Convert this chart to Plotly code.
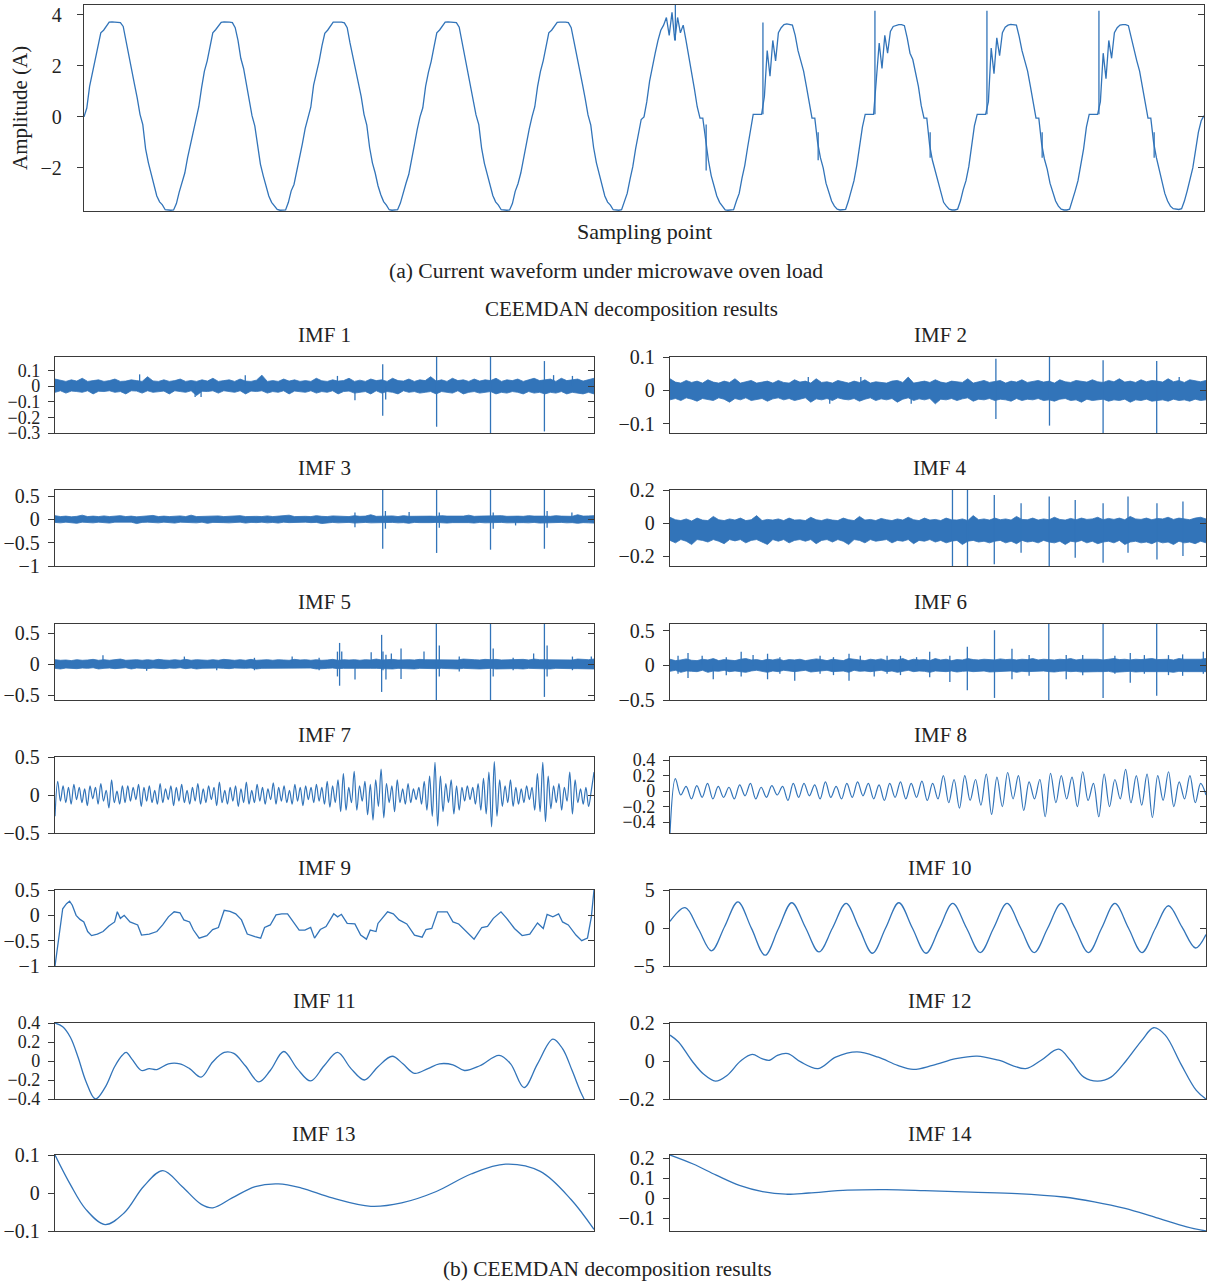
import numpy as np
import plotly.graph_objects as go

W, H = 1207, 1282
BLUE = "#3274b9"
AXC = "#3a3a3a"
FONT = "Liberation Serif"

# ---------------- (a) current waveform, 10 mains cycles, 40 samples per cycle ----------------
SAMPLE_STEP = 25  # sampling points between two listed samples
cyc1 = [0, .35, 1.2, 1.75, 2.15, 2.75, 3.3, 3.4, 3.55, 3.72, 3.73, 3.72, 3.73, 3.7, 3.55, 2.95, 2.35, 1.85, 1.3, .75,
        .1, -.3, -1.25, -1.8, -2.25, -2.7, -3.1, -3.33, -3.45, -3.64, -3.66, -3.66, -3.65, -3.4, -2.95, -2.6, -2.2, -1.6, -1.1, -.5]
cyc2 = [0, .4, 1.15, 1.8, 2.2, 2.7, 3.3, 3.42, 3.55, 3.71, 3.73, 3.73, 3.72, 3.7, 3.5, 3.0, 2.3, 1.9, 1.25, .7,
        .05, -.35, -1.2, -1.85, -2.3, -2.75, -3.1, -3.35, -3.47, -3.63, -3.66, -3.65, -3.65, -3.35, -2.9, -2.65, -2.15, -1.55, -1.05, -.45]
cyc3 = [0, .38, 1.25, 1.7, 2.2, 2.8, 3.28, 3.4, 3.56, 3.72, 3.72, 3.73, 3.72, 3.69, 3.5, 2.9, 2.4, 1.8, 1.3, .8,
        .1, -.32, -1.2, -1.8, -2.2, -2.7, -3.05, -3.32, -3.46, -3.64, -3.66, -3.66, -3.64, -3.38, -2.95, -2.6, -2.25, -1.6, -1.1, -.5]
cyc4 = [0, .36, 1.2, 1.75, 2.18, 2.75, 3.3, 3.41, 3.55, 3.72, 3.73, 3.72, 3.73, 3.7, 3.52, 2.95, 2.35, 1.85, 1.28, .75,
        .08, -.3, -1.22, -1.82, -2.25, -2.72, -3.08, -3.33, -3.46, -3.64, -3.66, -3.66, -3.65, -3.4, -2.92, -2.62, -2.2, -1.58, -1.08, -.48]
cyc5 = [0, .4, 1.2, 1.78, 2.2, 2.75, 3.3, 3.4, 3.55, 3.71, 3.72, 3.73, 3.72, 3.7, 3.5, 2.95, 2.35, 1.8, 1.3, .72,
        .08, -.32, -1.2, -1.8, -2.25, -2.7, -3.1, -3.34, -3.46, -3.64, -3.66, -3.66, -3.64, -3.35, -3.0, -2.45, -1.95, -1.25, -.65, -.1]
cyc6 = [0, .6, 1.4, 2.0, 2.5, 3.0, 3.4, 3.6, 3.9, 3.2, 4.1, 3.0, 3.9, 3.3, 3.6, 3.0, 2.4, 1.8, 1.1, .4,
        -.05, -.05, -.9, -1.7, -2.3, -2.7, -3.1, -3.35, -3.5, -3.65, -3.66, -3.66, -3.64, -3.3, -3.0, -2.4, -1.9, -1.2, -.6, .1]
cyc7 = [.1, .1, .1, .8, 2.6, 1.6, 3.0, 2.2, 3.3, 3.5, 3.62, 3.65, 3.63, 3.6, 3.2, 2.6, 2.2, 1.8, 1.2, .5,
        -.05, -.05, -1.0, -1.6, -2.0, -2.6, -3.0, -3.3, -3.5, -3.62, -3.65, -3.65, -3.63, -3.3, -2.9, -2.5, -1.9, -1.2, -.4, .1]
cyc8 = [.1, .1, .1, 1.5, 2.9, 1.9, 3.2, 2.5, 3.35, 3.55, 3.6, 3.62, 3.62, 3.58, 3.1, 2.5, 2.25, 1.75, 1.2, .45,
        -.05, -.05, -1.1, -1.7, -2.1, -2.6, -3.0, -3.35, -3.5, -3.62, -3.65, -3.65, -3.62, -3.3, -2.85, -2.5, -1.95, -1.2, -.35, .1]
cyc9 = [.1, .1, .1, .6, 2.7, 1.7, 3.1, 2.4, 3.3, 3.52, 3.6, 3.63, 3.62, 3.6, 3.15, 2.6, 2.2, 1.8, 1.2, .5,
        -.05, -.05, -1.05, -1.65, -2.05, -2.6, -3.0, -3.3, -3.5, -3.62, -3.65, -3.65, -3.62, -3.3, -2.9, -2.5, -1.9, -1.25, -.4, .1]
cyc10 = [.1, .1, .1, .6, 2.5, 1.5, 3.0, 2.3, 3.3, 3.5, 3.6, 3.62, 3.62, 3.58, 3.1, 2.6, 2.2, 1.8, 1.2, .5,
         -.05, -.05, -1.0, -1.6, -2.1, -2.6, -3.0, -3.3, -3.5, -3.6, -3.63, -3.63, -3.6, -3.3, -2.9, -2.5, -2.0, -1.3, -.6, -.15]
current_last = [.05]
# switching transients in the current (sampling point, low, high)
cur_spk_x = [5280, 5555, 6062, 6555, 7062, 7555, 8062, 8555, 9062, 9555]
cur_spk_lo = [3.0, -2.1, .1, -1.7, .1, -1.6, .1, -1.6, .1, -1.6]
cur_spk_hi = [4.5, -.3, 3.7, -.6, 4.16, -.6, 4.16, -.6, 4.16, -.6]

# ---------------- IMF 1-6: noise band (upper / lower envelope, 100 bins) + transients ----------------
imf1_up = [.045, .035, .03, .04, .032, .05, .03, .035, .04, .03, .035, .045, .03, .032, .04, .035, .03, .06, .033, .03,
           .04, .03, .035, .045, .03, .036, .03, .04, .032, .05, .03, .035, .04, .03, .045, .032, .03, .038, .07, .03,
           .035, .03, .045, .032, .04, .03, .035, .03, .05, .034, .03, .04, .032, .035, .05, .03, .038, .03, .045, .035,
           .04, .03, .05, .035, .032, .045, .03, .04, .035, .06, .032, .04, .03, .05, .035, .04, .03, .045, .032, .04,
           .035, .05, .03, .04, .035, .045, .03, .04, .05, .035, .04, .045, .03, .05, .035, .04, .045, .032, .04, .05]
imf1_lo = [-.04, -.03, -.045, -.032, -.035, -.04, -.03, -.05, -.033, -.035, -.03, -.04, -.035, -.05, -.03, -.032, -.045, -.03, -.04, -.035,
           -.032, -.05, -.03, -.035, -.04, -.03, -.06, -.033, -.035, -.03, -.045, -.03, -.035, -.04, -.03, -.05, -.032, -.035, -.03, -.045,
           -.035, -.04, -.03, -.05, -.032, -.035, -.04, -.03, -.045, -.035, -.04, -.03, -.05, -.035, -.032, -.045, -.04, -.035, -.05, -.03,
           -.045, -.035, -.04, -.05, -.03, -.04, -.035, -.045, -.04, -.035, -.05, -.035, -.04, -.045, -.03, -.05, -.04, -.035, -.045, -.04,
           -.035, -.05, -.04, -.045, -.035, -.04, -.05, -.035, -.045, -.04, -.05, -.04, -.045, -.035, -.05, -.04, -.045, -.05, -.04, -.05]
imf1_spk_x = [1570, 2600, 2710, 3530, 5240, 5565, 6080, 6135, 7080, 8080, 9080, 9250, 9600]
imf1_spk_lo = [0, -.07, -.07, 0, 0, -.09, -.19, -.085, -.26, -.3, -.29, 0, 0]
imf1_spk_hi = [.075, 0, 0, .07, .065, 0, .14, 0, .19, .19, .16, .07, .065]

imf2_up = [.035, .025, .022, .03, .024, .028, .022, .032, .025, .022, .028, .024, .035, .022, .026, .03, .022, .025, .028, .022,
           .03, .024, .022, .032, .025, .028, .022, .035, .024, .026, .022, .03, .025, .022, .028, .024, .032, .022, .026, .025,
           .022, .028, .03, .024, .04, .022, .026, .028, .024, .032, .025, .022, .028, .026, .024, .035, .022, .026, .03, .024,
           .026, .03, .022, .028, .025, .032, .024, .026, .03, .025, .028, .022, .032, .026, .024, .03, .028, .025, .032, .026,
           .024, .03, .026, .035, .025, .028, .024, .032, .026, .03, .028, .025, .035, .026, .03, .024, .032, .028, .026, .03]
imf2_lo = [-.028, -.024, -.03, -.022, -.026, -.032, -.024, -.026, -.03, -.022, -.026, -.035, -.024, -.028, -.022, -.03, -.026, -.024, -.032, -.025,
           -.022, -.028, -.024, -.03, -.026, -.022, -.035, -.025, -.028, -.024, -.03, -.022, -.026, -.028, -.024, -.032, -.026, -.022, -.03, -.025,
           -.028, -.024, -.035, -.026, -.022, -.03, -.025, -.028, -.024, -.04, -.026, -.028, -.024, -.03, -.025, -.022, -.032, -.026, -.028, -.024,
           -.03, -.026, -.028, -.032, -.024, -.03, -.026, -.028, -.024, -.03, -.028, -.032, -.026, -.024, -.03, -.028, -.035, -.026, -.03, -.028,
           -.026, -.032, -.028, -.03, -.026, -.035, -.028, -.03, -.026, -.032, -.03, -.028, -.032, -.026, -.03, -.028, -.032, -.026, -.03, -.028]
imf2_spk_x = [2580, 2980, 3560, 4500, 6080, 7080, 8080, 9080, 9500]
imf2_spk_lo = [0, -.04, 0, -.04, -.085, -.105, -.127, -.127, 0]
imf2_spk_hi = [.04, 0, .04, 0, .095, .1, .09, .088, .04]

imf3_up = [.08, .06, .07, .055, .065, .09, .06, .07, .06, .075, .06, .065, .08, .06, .07, .055, .065, .06, .085, .06,
           .07, .06, .065, .075, .06, .09, .06, .065, .07, .06, .075, .06, .065, .06, .08, .06, .07, .065, .06, .075,
           .06, .07, .065, .09, .06, .07, .065, .06, .08, .065, .06, .075, .065, .07, .06, .08, .065, .07, .1, .065,
           .07, .065, .075, .06, .08, .065, .07, .06, .075, .07, .065, .08, .07, .065, .075, .07, .09, .065, .07, .075,
           .065, .07, .08, .065, .075, .07, .065, .08, .07, .075, .07, .065, .08, .07, .075, .065, .1, .07, .075, .08]
imf3_lo = [-.065, -.075, -.06, -.07, -.085, -.06, -.065, -.075, -.06, -.07, -.08, -.06, -.065, -.07, -.06, -.09, -.065, -.06, -.07, -.075,
           -.06, -.065, -.08, -.06, -.07, -.065, -.075, -.06, -.085, -.065, -.06, -.07, -.075, -.065, -.06, -.08, -.065, -.07, -.06, -.075,
           -.065, -.08, -.06, -.07, -.065, -.075, -.06, -.07, -.065, -.09, -.07, -.065, -.075, -.07, -.065, -.08, -.07, -.065, -.075, -.07,
           -.08, -.07, -.065, -.075, -.07, -.085, -.065, -.07, -.075, -.07, -.065, -.075, -.08, -.07, -.065, -.075, -.07, -.08, -.065, -.075,
           -.07, -.08, -.065, -.075, -.07, -.08, -.07, -.075, -.065, -.08, -.075, -.07, -.08, -.065, -.075, -.07, -.085, -.07, -.075, -.08]
imf3_spk_x = [5565, 6080, 6130, 6570, 7080, 7130, 8080, 8130, 8545, 9080, 9130, 9590]
imf3_spk_lo = [-.17, -.63, -.2, 0, -.72, -.18, -.65, -.2, -.13, -.63, -.18, 0]
imf3_spk_hi = [.15, .63, .18, .16, .63, .15, .63, .15, 0, .63, .18, .15]

imf4_up = [.035, .02, .015, .025, .012, .03, .018, .015, .04, .02, .015, .025, .018, .03, .015, .02, .045, .015, .022, .018,
           .025, .015, .03, .018, .02, .015, .035, .02, .015, .025, .018, .015, .03, .02, .015, .04, .018, .022, .015, .028,
           .02, .015, .025, .018, .035, .02, .015, .03, .018, .022, .015, .03, .02, .018, .025, .015, .045, .02, .025, .018,
           .03, .02, .025, .018, .04, .022, .02, .03, .018, .025, .02, .035, .022, .018, .028, .02, .03, .022, .025, .035,
           .02, .028, .022, .03, .02, .04, .025, .022, .03, .02, .028, .025, .035, .022, .03, .025, .02, .03, .035, .025]
imf4_lo = [-.105, -.12, -.1, -.11, -.13, -.1, -.105, -.115, -.1, -.11, -.125, -.1, -.108, -.1, -.12, -.105, -.1, -.115, -.13, -.1,
           -.11, -.1, -.12, -.105, -.1, -.11, -.1, -.125, -.105, -.1, -.115, -.1, -.11, -.13, -.1, -.105, -.12, -.1, -.11, -.105,
           -.1, -.12, -.105, -.11, -.1, -.125, -.105, -.11, -.1, -.115, -.105, -.12, -.11, -.105, -.13, -.11, -.105, -.115, -.11, -.12,
           -.11, -.105, -.12, -.11, -.125, -.105, -.115, -.11, -.12, -.105, -.115, -.12, -.11, -.13, -.11, -.115, -.105, -.12, -.11, -.125,
           -.115, -.11, -.12, -.105, -.13, -.115, -.11, -.12, -.115, -.125, -.11, -.12, -.115, -.13, -.11, -.12, -.115, -.125, -.11, -.12]
imf4_spk_x = [5270, 5550, 6050, 6550, 7075, 7560, 8080, 8545, 9085, 9570]
imf4_spk_lo = [-.26, -.26, -.25, -.18, -.26, -.21, -.24, -.18, -.22, -.2]
imf4_spk_hi = [.2, .2, .17, .12, .16, .14, .12, .16, .12, .13]

imf5_up = [.07, .06, .065, .055, .07, .06, .065, .075, .06, .07, .06, .065, .08, .06, .065, .07, .06, .07, .06, .075,
           .065, .06, .07, .06, .075, .06, .07, .065, .06, .07, .06, .075, .065, .06, .07, .06, .075, .06, .065, .07,
           .06, .07, .065, .06, .075, .065, .07, .06, .07, .06, .065, .075, .06, .07, .065, .07, .06, .07, .065, .08,
           .065, .07, .075, .065, .07, .07, .065, .075, .07, .07, .065, .075, .07, .07, .065, .08, .07, .07, .065, .075,
           .07, .075, .065, .07, .075, .07, .075, .065, .08, .07, .07, .065, .075, .07, .075, .065, .08, .07, .07, .08]
imf5_lo = [-.07, -.08, -.065, -.07, -.075, -.065, -.07, -.06, -.08, -.07, -.065, -.075, -.07, -.06, -.08, -.065, -.07, -.075, -.065, -.07,
           -.075, -.065, -.07, -.06, -.075, -.065, -.08, -.07, -.065, -.07, -.065, -.07, -.075, -.065, -.07, -.07, -.065, -.08, -.07, -.07,
           -.065, -.075, -.07, -.065, -.075, -.07, -.07, -.065, -.08, -.07, -.07, -.065, -.075, -.07, -.075, -.07, -.07, -.075, -.07, -.07,
           -.075, -.07, -.08, -.07, -.075, -.07, -.08, -.07, -.075, -.07, -.075, -.07, -.075, -.07, -.08, -.07, -.075, -.07, -.08, -.075,
           -.07, -.08, -.075, -.07, -.075, -.075, -.08, -.07, -.075, -.075, -.075, -.08, -.07, -.075, -.08, -.075, -.075, -.08, -.075, -.08]
imf5_spk_x = [890, 1700, 2400, 3000, 3700, 4400, 4900, 5240, 5280, 5320, 5566, 5866, 6060, 6085, 6140, 6240, 6420, 6846,
              7075, 7130, 7500, 8080, 8130, 8500, 8880, 9080, 9130, 9600, 9950]
imf5_spk_lo = [0, -.11, 0, -.1, -.1, 0, -.1, -.2, -.35, 0, -.25, 0, -.45, -.1, -.25, 0, -.24, 0,
               -.58, -.2, -.12, -.58, -.2, -.1, 0, -.53, -.2, -.1, 0]
imf5_spk_hi = [.14, 0, .12, 0, .1, .12, .1, .2, .34, .2, 0, .19, .47, .2, .15, .17, .25, .2,
               .645, .3, .12, .645, .25, .1, .17, .645, .3, .12, .12]

imf6_up = [.09, .07, .08, .095, .075, .07, .09, .08, .1, .07, .085, .08, .07, .09, .1, .08, .085, .07, .09, .08,
           .095, .07, .085, .08, .09, .07, .08, .095, .085, .07, .09, .08, .07, .1, .085, .08, .07, .09, .08, .095,
           .07, .085, .08, .1, .07, .09, .08, .085, .07, .1, .08, .09, .07, .085, .08, .1, .085, .08, .09, .085,
           .08, .095, .085, .09, .08, .09, .085, .1, .08, .09, .085, .08, .09, .085, .1, .08, .09, .085, .09, .09,
           .08, .09, .1, .085, .09, .08, .09, .085, .09, .1, .085, .09, .09, .08, .1, .09, .085, .09, .09, .1]
imf6_lo = [-.085, -.07, -.1, -.08, -.085, -.09, -.07, -.1, -.08, -.085, -.07, -.09, -.08, -.09, -.1, -.08, -.07, -.085, -.1, -.08,
           -.09, -.07, -.085, -.09, -.08, -.07, -.095, -.085, -.08, -.07, -.09, -.085, -.08, -.1, -.07, -.085, -.08, -.09, -.085, -.07,
           -.09, -.08, -.1, -.085, -.07, -.09, -.08, -.085, -.1, -.08, -.085, -.09, -.08, -.095, -.085, -.08, -.09, -.085, -.08, -.095,
           -.09, -.085, -.09, -.08, -.1, -.085, -.09, -.085, -.09, -.08, -.09, -.095, -.085, -.08, -.09, -.085, -.095, -.09, -.085, -.09,
           -.09, -.085, -.1, -.09, -.09, -.085, -.095, -.09, -.09, -.085, -.095, -.09, -.09, -.1, -.085, -.09, -.09, -.095, -.09, -.09]
imf6_spk_x = [150, 336, 600, 807, 1050, 1328, 1550, 1820, 2050, 2327, 2800, 3050, 3340, 3550, 3810, 4050, 4300, 4600,
              4845, 5221, 5547, 6054, 6380, 6700, 7067, 7392, 7700, 8080, 8300, 8587, 8850, 9080, 9300, 9564, 9950]
imf6_spk_lo = [-.12, -.18, 0, -.2, -.14, -.16, 0, -.2, -.12, -.22, -.12, -.14, -.22, 0, -.16, -.12, -.14, 0,
               -.17, -.24, -.36, -.47, -.2, -.15, -.5, -.2, -.14, -.47, -.12, -.25, -.12, -.44, -.14, -.15, -.12]
imf6_spk_hi = [.14, .18, .14, 0, .12, .2, .15, .17, .12, 0, .14, .12, .17, .14, 0, .14, .14, .12,
               .2, .14, .27, .51, .24, .15, .6, .15, .15, .6, .14, .18, .15, .6, .15, .16, .2]

# ---------------- IMF 7, 8: oscillatory (equally spaced samples) ----------------
imf7 = [-.28, .18, -.08, .12, -.1, .1, -.12, .14, -.06, .1,
        -.1, .08, -.14, .12, -.05, .1, -.12, .15, -.08, .06,
        -.17, .2, -.1, .05, -.12, .12, -.1, .12, -.08, .1,
        -.06, .14, -.15, .1, -.08, .12, -.1, .06, -.12, .15,
        -.1, .08, -.06, .12, -.14, .1, -.08, .14, -.1, .06,
        -.12, .1, -.08, .15, -.12, .08, -.1, .12, -.06, .1,
        -.14, .17, -.1, .06, -.12, .1, -.08, .12, -.15, .08,
        -.1, .17, -.12, .06, -.1, .14, -.08, .1, -.12, .08,
        -.06, .16, -.12, .1, -.08, .12, -.1, .06, -.12, .14,
        -.08, .1, -.14, .12, -.06, .1, -.1, .14, -.08, .1,
        -.12, .18, -.16, .12, -.1, .2, -.22, .28, -.2, .1,
        -.1, .31, -.2, .12, -.08, .18, -.26, .14, -.33, .2,
        -.15, .34, -.3, .15, -.1, .12, -.22, .2, -.1, .08,
        -.12, .15, -.1, .08, -.06, .1, -.12, .18, -.2, .25,
        -.28, .43, -.41, .25, -.22, .15, -.1, .2, -.25, .12,
        -.2, .1, -.08, .12, -.06, .1, -.12, .15, -.2, .22,
        -.25, .3, -.42, .44, -.28, .2, -.15, .12, -.1, .2,
        -.15, .1, -.12, .08, -.1, .12, -.06, .1, -.2, .28,
        -.22, .43, -.35, .25, -.18, .12, -.1, .15, -.2, .1,
        -.08, .3, -.25, .2, -.1, .08, -.12, .1, -.15, .06,
        .3]
imf8 = [-.54, .16, -.05, .06, -.1, .07, -.08, .1, -.1, .06,
        -.08, .05, -.1, .08, -.06, .1, -.1, .05, -.08, .07,
        -.05, .06, -.12, .1, -.08, .1, -.06, .08, -.1, .12,
        -.08, .06, -.1, .1, -.08, .12, -.06, .1, -.1, .08,
        -.12, .1, -.08, .12, -.1, .1, -.08, .13, -.12, .1,
        -.1, .2, -.15, .15, -.22, .2, -.12, .15, -.18, .22,
        -.3, .18, -.2, .24, -.1, .2, -.25, .12, -.1, .15,
        -.33, .23, -.15, .2, -.1, .18, -.2, .25, -.12, .1,
        -.33, .22, -.2, .15, -.1, .28, -.15, .2, -.18, .22,
        -.34, .2, -.12, .25, -.2, .12, -.1, .2, -.15, .1,
        -.05]

# ---------------- IMF 9-14: slow components (sampling point, value) ----------------
imf9_x = [0, 93, 143, 214, 271, 321, 392, 464, 535, 606, 678, 785, 892, 999, 1106, 1156, 1213, 1284, 1391, 1534,
          1605, 1748, 1890, 1997, 2104, 2211, 2318, 2390, 2497, 2568, 2675, 2818, 2925, 3032, 3139, 3246, 3353, 3460, 3567, 3709,
          3816, 3888, 3994, 4101, 4208, 4315, 4422, 4530, 4636, 4743, 4815, 4922, 5029, 5171, 5243, 5314, 5421, 5564, 5671, 5778,
          5849, 5956, 5992, 6170, 6277, 6384, 6527, 6669, 6812, 6883, 6990, 7097, 7276, 7383, 7490, 7632, 7775, 7918, 8025, 8132,
          8274, 8381, 8524, 8667, 8809, 8952, 9059, 9130, 9237, 9344, 9416, 9523, 9665, 9772, 9879, 9951, 10000]
imf9_y = [-1.0, -.22, .13, .23, .28, .2, 0, -.08, -.13, -.32, -.4, -.37, -.32, -.21, -.13, .07, -.06, 0, -.13, -.19,
          -.39, -.37, -.32, -.19, -.03, .07, .05, -.09, -.13, -.29, -.45, -.4, -.28, -.24, .1, .08, .03, -.09, -.37, -.42,
          -.45, -.24, -.19, .01, .03, .03, -.13, -.29, -.29, -.24, -.45, -.28, -.22, .03, -.03, .02, -.16, -.17, -.39, -.47,
          -.29, -.32, -.16, .07, .03, -.09, -.17, -.39, -.43, -.28, -.26, .07, .07, -.13, -.17, -.32, -.47, -.24, -.22, -.06,
          .07, -.06, -.26, -.4, -.37, -.15, -.26, .02, -.03, .03, -.13, -.19, -.39, -.5, -.45, -.03, .5]
imf10_x = [0, 282, 528, 774, 1020, 1266, 1520, 1773, 2022, 2272, 2525, 2779, 3032, 3285, 3531, 3777, 4023, 4269, 4522, 4776,
           5025, 5275, 5532, 5789, 6038, 6288, 6541, 6795, 7048, 7301, 7554, 7808, 8054, 8300, 8553, 8806, 9052, 9298, 9551, 9805, 10000]
imf10_y = [.86, 2.67, -.1, -3.0, .2, 3.45, -.05, -3.58, -.1, 3.32, .1, -3.15, 0, 3.23, -.05, -3.32, 0, 3.32, 0, -3.32,
           -.05, 3.23, 0, -3.23, 0, 3.23, 0, -3.23, 0, 3.23, 0, -3.23, 0, 3.23, 0, -3.23, -.1, 2.93, .15, -2.63, -.86]
imf11_x = [0, 143, 285, 428, 571, 749, 927, 1106, 1248, 1320, 1427, 1605, 1748, 1890, 2104, 2318, 2497, 2711, 2925, 3139,
           3317, 3531, 3780, 3994, 4244, 4494, 4743, 4993, 5243, 5492, 5742, 5992, 6256, 6455, 6669, 6919, 7133, 7383, 7597, 7882,
           8239, 8453, 8702, 8952, 9237, 9416, 9594, 9772, 9879, 10000]
imf11_y = [.4, .36, .25, .04, -.21, -.4, -.28, -.06, .06, .09, .02, -.1, -.08, -.09, -.03, -.03, -.08, -.17, -.01, .09,
           .08, -.05, -.22, -.1, .1, -.08, -.21, -.05, .09, -.08, -.2, -.06, .05, -.03, -.13, -.08, -.03, -.04, -.1, -.05,
           .06, -.03, -.28, -.03, .23, .13, -.1, -.35, -.45, -.45]
imf12_x = [0, 159, 412, 630, 847, 1064, 1317, 1534, 1715, 1860, 2004, 2200, 2439, 2764, 3090, 3488, 3886, 4248, 4537, 4899,
           5333, 5731, 6129, 6635, 6925, 7250, 7468, 7721, 7974, 8227, 8517, 8806, 9023, 9240, 9530, 9819, 10000]
imf12_y = [.136, .1, 0, -.07, -.106, -.076, 0, .035, .012, .004, .03, .039, -.005, -.04, .02, .048, .02, -.023, -.044, -.023,
           .012, .026, .004, -.04, .004, .062, .004, -.085, -.106, -.085, .004, .11, .175, .136, -.015, -.155, -.2]
imf13_x = [0, 286, 572, 929, 1286, 1643, 2000, 2358, 2715, 2929, 3287, 3715, 4144, 4573, 5144, 5859, 6431, 7074, 7717, 8360,
           9003, 9574, 10000]
imf13_y = [.1, .022, -.043, -.083, -.052, .017, .059, .017, -.03, -.039, -.013, .017, .024, .013, -.013, -.035, -.026, .004, .05, .076,
           .057, -.017, -.096]
imf14_x = [0, 432, 863, 1295, 1727, 2159, 2590, 3310, 4029, 4749, 5612, 6476, 7339, 7915, 8490, 9066, 9640, 10000]
imf14_y = [.215, .17, .114, .063, .032, .019, .025, .039, .042, .037, .029, .022, .005, -.019, -.052, -.098, -.144, -.165]

imf_titles = ["IMF %d" % i for i in range(1, 15)]

# ====================================================================================
fig = go.Figure()


def ax_name(k):
    return "" if k == 1 else str(k)


def segs(xs, lo, hi):
    X, Y = [], []
    for a, b, c in zip(xs, lo, hi):
        X += [a, a, None]
        Y += [b, c, None]
    return X, Y


def line(k, x, y, width=1.3, shape="linear", fill=None):
    fig.add_trace(go.Scatter(x=x, y=y, mode="lines", xaxis="x" + ax_name(k), yaxis="y" + ax_name(k),
                             line=dict(color=BLUE, width=width, shape=shape), fill=fill,
                             fillcolor=BLUE if fill else None, hoverinfo="skip", showlegend=False))


def tick_text(v):
    return ("%g" % v).replace("-", "\u2212")


def setup_axes(k, xd, yd, rng, ticks, tsize=20, standoff=4):
    a = ax_name(k)
    fig.layout["xaxis" + a] = dict(domain=xd, range=[0, 10000], anchor="y" + a, showticklabels=False, ticks="",
                                   showline=True, mirror=True, linecolor=AXC, linewidth=1.3, automargin=False,
                                   showgrid=False, zeroline=False, fixedrange=True)
    fig.layout["yaxis" + a] = dict(domain=yd, range=rng, anchor="x" + a, tickmode="array", tickvals=ticks,
                                   ticktext=[tick_text(v) for v in ticks], ticks="outside", ticklen=6,
                                   tickwidth=1.2, tickcolor=AXC, showline=True, mirror=True, linecolor=AXC,
                                   linewidth=1.3, showgrid=False, zeroline=False, automargin=False,
                                   tickfont=dict(family=FONT, size=tsize, color="#222"),
                                   ticklabelstandoff=standoff)
    # inward ticks on the right-hand frame
    r = str(k + 15)
    fig.layout["yaxis" + r] = dict(domain=yd, range=rng, overlaying="y" + a, anchor="x" + a, side="right",
                                   tickmode="array", tickvals=ticks, ticks="inside", ticklen=6, tickwidth=1.2,
                                   tickcolor=AXC, showticklabels=False, showline=False, showgrid=False,
                                   zeroline=False, automargin=False)
    fig.add_trace(go.Scatter(x=[None], y=[None], xaxis="x" + a, yaxis="y" + r, mode="lines",
                             showlegend=False, hoverinfo="skip"))


def dx(x0, x1):
    return [x0 / W, x1 / W]


def dy(t, b):
    return [1 - b / H, 1 - t / H]


# ---- (a) ----
current = cyc1 + cyc2 + cyc3 + cyc4 + cyc5 + cyc6 + cyc7 + cyc8 + cyc9 + cyc10 + current_last
cx = np.arange(len(current)) * SAMPLE_STEP
line(1, cx, current, width=1.3)
X, Y = segs(cur_spk_x, cur_spk_lo, cur_spk_hi)
line(1, X, Y, width=1.3)
setup_axes(1, dx(84, 1204), dy(5, 211), [-3.69, 4.39], [4, 2, 0, -2], tsize=20, standoff=11)

# ---- (b) ----
cols = [(55, 594), (670, 1206)]
row_top = [357, 490, 624, 757, 890, 1023, 1155]
title_y = [335, 468, 602, 735, 868, 1001, 1134]
ranges = [[-.3, .186], [-.127, .1], [-1, .63], [-.26, .2], [-.58, .645], [-.5, .6], [-.5, .5], [-.54, .44],
          [-1, .5], [-5, 5], [-.4, .4], [-.2, .2], [-.1, .1], [-.165, .215]]
tickset = [[.1, 0, -.1, -.2, -.3], [.1, 0, -.1], [.5, 0, -.5, -1], [.2, 0, -.2], [.5, 0, -.5], [.5, 0, -.5],
           [.5, 0, -.5], [.4, .2, 0, -.2, -.4], [.5, 0, -.5, -1], [5, 0, -5], [.4, .2, 0, -.2, -.4], [.2, 0, -.2],
           [.1, 0, -.1], [.2, .1, 0, -.1]]

bands = [(imf1_up, imf1_lo, imf1_spk_x, imf1_spk_lo, imf1_spk_hi),
         (imf2_up, imf2_lo, imf2_spk_x, imf2_spk_lo, imf2_spk_hi),
         (imf3_up, imf3_lo, imf3_spk_x, imf3_spk_lo, imf3_spk_hi),
         (imf4_up, imf4_lo, imf4_spk_x, imf4_spk_lo, imf4_spk_hi),
         (imf5_up, imf5_lo, imf5_spk_x, imf5_spk_lo, imf5_spk_hi),
         (imf6_up, imf6_lo, imf6_spk_x, imf6_spk_lo, imf6_spk_hi)]
curves = {9: (imf9_x, imf9_y, "linear"), 10: (imf10_x, imf10_y, "spline"), 11: (imf11_x, imf11_y, "spline"),
          12: (imf12_x, imf12_y, "spline"), 13: (imf13_x, imf13_y, "spline"), 14: (imf14_x, imf14_y, "spline")}

annotations = []
for n in range(1, 15):
    k = n + 1
    c = (n - 1) % 2
    r = (n - 1) // 2
    x0, x1 = cols[c]
    top = row_top[r]
    if n <= 6:
        up, lo, sx, slo, shi = bands[n - 1]
        line(k, np.linspace(0, 10000, len(up)), up, width=0.8)
        line(k, np.linspace(0, 10000, len(lo)), lo, width=0.8, fill="tonexty")
        X, Y = segs(sx, slo, shi)
        line(k, X, Y, width=1.3)
    elif n == 7:
        line(k, np.linspace(0, 10000, len(imf7)), imf7, width=1.2, shape="spline")
    elif n == 8:
        line(k, np.linspace(0, 10000, len(imf8)), imf8, width=1.2, shape="spline")
    else:
        xs, ys, shp = curves[n]
        line(k, xs, ys, width=1.3, shape=shp)
    dense = len(tickset[n - 1]) >= 5
    setup_axes(k, dx(x0, x1), dy(top, top + 76), ranges[n - 1], tickset[n - 1], tsize=18 if dense else 20)
    annotations.append(dict(text=imf_titles[n - 1], x=(324 if c == 0 else 940) / W, y=1 - title_y[r] / H,
                            xref="paper", yref="paper", showarrow=False, xanchor="center", yanchor="middle",
                            font=dict(family=FONT, size=21, color="#222")))

texts = [("Sampling point", 644, 232, 22, 0), ("(a) Current waveform under microwave oven load", 606, 271, 21.6, 0),
         ("CEEMDAN decomposition results", 631, 309, 21, 0), ("(b) CEEMDAN decomposition results", 607, 1269, 21.4, 0),
         ("Amplitude (A)", 20, 108, 21, -90)]
for t, x, y, s, ang in texts:
    annotations.append(dict(text=t, x=x / W, y=1 - y / H, xref="paper", yref="paper", showarrow=False,
                            xanchor="center", yanchor="middle", textangle=ang,
                            font=dict(family=FONT, size=s, color="#222")))

fig.update_layout(width=W, height=H, autosize=False,
                  margin=dict(l=0, r=0, t=0, b=0, pad=0, autoexpand=False), paper_bgcolor="white",
                  plot_bgcolor="white", showlegend=False, annotations=annotations,
                  font=dict(family=FONT, color="#222"))

# pin the figure to the page's top-left corner (no body margin, no scrollbars)
PIN = ("var gd=document.getElementById('{plot_id}');"
       "var d=document.documentElement, b=document.body;"
       "d.style.margin='0';d.style.padding='0';d.style.overflow='hidden';"
       "b.style.margin='0';b.style.padding='0';b.style.overflow='hidden';"
       "gd.style.position='absolute';gd.style.left='0px';gd.style.top='0px';")
fig.write_html("out.html", post_script=PIN, config={"displayModeBar": False})
